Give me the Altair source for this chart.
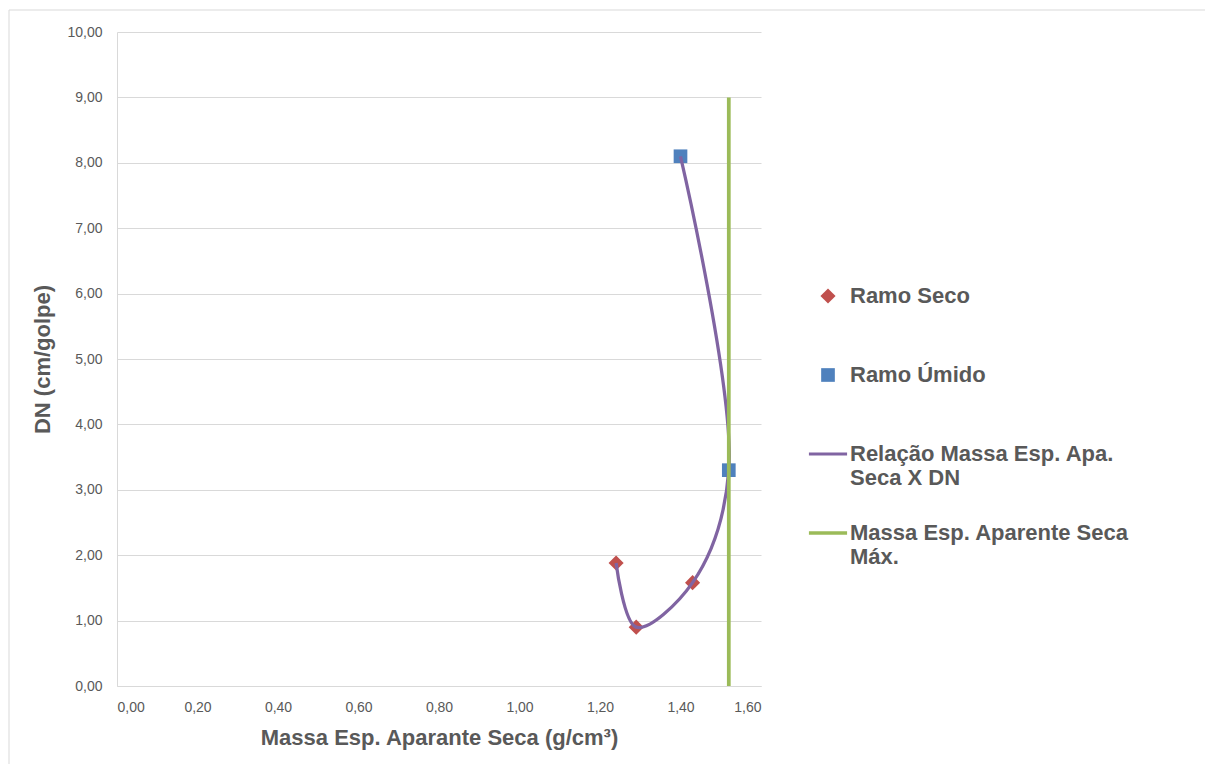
import altair as alt
import pandas as pd

# Ensaio de compactação: massa específica aparente seca x DN
seco_massa = [1.24, 1.29, 1.43]
seco_dn = [1.88, 0.90, 1.58]
umido_massa = [1.52, 1.40]
umido_dn = [3.30, 8.10]

# curva suavizada que liga os pontos na ordem do ensaio
curva_massa = seco_massa + umido_massa
curva_dn = seco_dn + umido_dn

# linha vertical da massa específica aparente seca máxima
max_massa = 1.52
max_dn_ini = 0.0
max_dn_fim = 9.0

series = [
    "Ramo Seco",
    "Ramo Úmido",
    "Relação Massa Esp. Apa. Seca X DN",
    "Massa Esp. Aparente Seca Máx.",
]
cores = ["#C0504D", "#4F81BD", "#8064A2", "#9BBB59"]
# símbolos em caminho SVG; a unidade vale metade do lado do símbolo (36 px)
simbolos = [
    "M0,-0.21L0.21,0L0,0.21L-0.21,0Z",
    "M-0.19,-0.19H0.19V0.19H-0.19Z",
    "M-0.53,-0.045H0.53V0.045H-0.53Z",
    "M-0.53,-0.05H0.53V0.05H-0.53Z",
]
TAM_SIMBOLO = 5184

x_ticks = [0.0, 0.2, 0.4, 0.6, 0.8, 1.0, 1.2, 1.4, 1.6]
y_ticks = [0, 1, 2, 3, 4, 5, 6, 7, 8, 9, 10]

pontos = pd.DataFrame(
    {
        "massa": seco_massa + umido_massa,
        "dn": seco_dn + umido_dn,
        "serie": [series[0]] * len(seco_massa) + [series[1]] * len(umido_massa),
    }
)
curva = pd.DataFrame(
    {
        "massa": curva_massa,
        "dn": curva_dn,
        "ordem": list(range(len(curva_massa))),
        "serie": [series[2]] * len(curva_massa),
    }
)
maxima = pd.DataFrame(
    {"massa": [max_massa], "dn": [max_dn_ini], "dn2": [max_dn_fim], "serie": [series[3]]}
)

CINZA = "#595959"
GRADE = "#D9D9D9"
FONTE_EIXO = "Liberation Sans"

fmt_virgula = "replace(format(datum.value, '.2f'), '.', ',')"

x_enc = alt.X(
    "massa:Q",
    scale=alt.Scale(domain=[0, 1.6], nice=False, zero=False),
    axis=alt.Axis(
        title="Massa Esp. Aparante Seca (g/cm³)",
        values=x_ticks,
        labelExpr=fmt_virgula,
        grid=False,
        ticks=False,
        tickSize=0,
        domain=True,
        domainColor=GRADE,
        labelPadding=14,
        titlePadding=13,
    ),
)
y_enc = alt.Y(
    "dn:Q",
    scale=alt.Scale(domain=[0, 10], nice=False, zero=False),
    axis=alt.Axis(
        title="DN (cm/golpe)",
        values=y_ticks,
        labelExpr=fmt_virgula,
        grid=True,
        gridColor=GRADE,
        ticks=False,
        tickSize=0,
        domain=True,
        domainColor=GRADE,
        labelPadding=15,
        titlePadding=12,
    ),
)

cor_scale = alt.Scale(domain=series, range=cores)
forma_scale = alt.Scale(domain=series, range=simbolos)

# rótulos da legenda sempre em duas linhas, para espaçamento uniforme
rotulos = (
    "datum.label == '" + series[2] + "' ? ['Relação Massa Esp. Apa.', 'Seca X DN'] : "
    "datum.label == '" + series[3] + "' ? ['Massa Esp. Aparente Seca', 'Máx.'] : "
    "[datum.label, '']"
)

legenda = alt.Legend(
    title=None,
    orient="none",
    legendX=675,
    legendY=228,
    padding=0,
    labelFont=FONTE_EIXO,
    labelFontSize=22,
    labelFontWeight="bold",
    labelColor=CINZA,
    labelLimit=0,
    labelOffset={"expr": "-14"},
    labelExpr=rotulos,
    symbolSize=TAM_SIMBOLO,
    symbolOpacity=1,
    symbolStrokeWidth=0,
    rowPadding=8,
)

camada_pontos = (
    alt.Chart(pontos)
    .mark_point(filled=True, opacity=1, size=TAM_SIMBOLO, strokeWidth=0)
    .encode(
        x=x_enc,
        y=y_enc,
        color=alt.Color("serie:N", scale=cor_scale, legend=legenda),
        shape=alt.Shape("serie:N", scale=forma_scale, legend=legenda),
    )
)

camada_curva = (
    alt.Chart(curva)
    .mark_line(interpolate="catmull-rom", strokeWidth=3.25)
    .encode(
        x="massa:Q",
        y="dn:Q",
        order="ordem:Q",
        color=alt.Color("serie:N", scale=cor_scale, legend=None),
    )
)

camada_maxima = (
    alt.Chart(maxima)
    .mark_rule(strokeWidth=3.75)
    .encode(
        x="massa:Q",
        y="dn:Q",
        y2="dn2:Q",
        color=alt.Color("serie:N", scale=cor_scale, legend=None),
    )
)

# moldura da área do gráfico (bordas superior e esquerda)
moldura_topo = alt.Chart(pd.DataFrame({"k": [0]})).mark_rule(color=GRADE, strokeWidth=1).encode(
    x=alt.value(-108), x2=alt.value(1088), y=alt.value(-22)
)
moldura_esq = alt.Chart(pd.DataFrame({"k": [0]})).mark_rule(color=GRADE, strokeWidth=1).encode(
    x=alt.value(-108), y=alt.value(-22), y2=alt.value(732)
)

chart = (
    alt.layer(moldura_topo, moldura_esq, camada_pontos, camada_curva, camada_maxima)
    .properties(
        width=644,
        height=654,
        autosize=alt.AutoSizeParams(type="none"),
        padding={"left": 117, "top": 32, "right": 444, "bottom": 78},
        background="white",
    )
    .configure_view(stroke=None)
    .configure_axis(
        labelFont=FONTE_EIXO,
        labelFontSize=14,
        labelColor=CINZA,
        titleFont=FONTE_EIXO,
        titleFontSize=22,
        titleFontWeight="bold",
        titleColor=CINZA,
    )
)

chart.save("out.html", embed_options={"renderer": "svg", "actions": False})
